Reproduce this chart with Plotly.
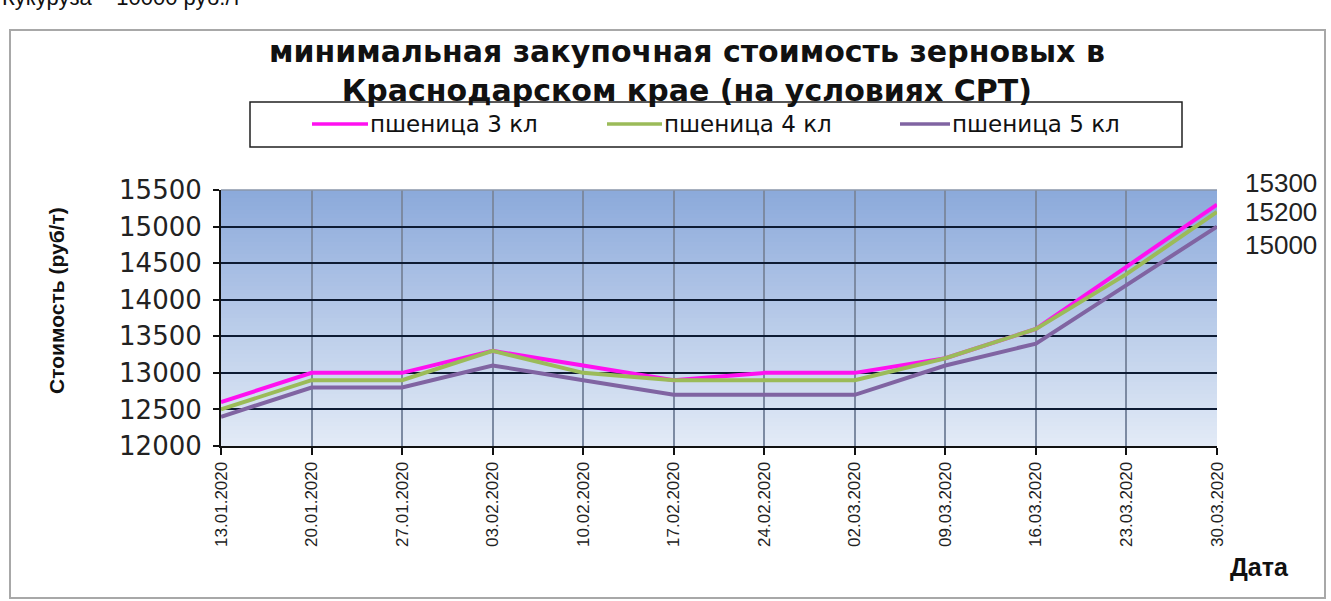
import plotly.graph_objects as go

dates = ["13.01.2020", "20.01.2020", "27.01.2020", "03.02.2020", "10.02.2020", "17.02.2020",
         "24.02.2020", "02.03.2020", "09.03.2020", "16.03.2020", "23.03.2020", "30.03.2020"]
wheat3 = [12600, 13000, 13000, 13300, 13100, 12900, 13000, 13000, 13200, 13600, 14450, 15300]
wheat4 = [12500, 12900, 12900, 13300, 13000, 12900, 12900, 12900, 13200, 13600, 14350, 15200]
wheat5 = [12400, 12800, 12800, 13100, 12900, 12700, 12700, 12700, 13100, 13400, 14200, 15000]
series_names = ["пшеница 3 кл", "пшеница 4 кл", "пшеница 5 кл"]
series_colors = ["#ff10f0", "#9bbb59", "#8064a2"]
yticks = [12000, 12500, 13000, 13500, 14000, 14500, 15000, 15500]
title_lines = ["минимальная закупочная стоимость зерновых в", "Краснодарском крае (на условиях СРТ)"]

W, H = 1331, 601
L, R, T, B = 221, 1217, 190, 446
pw, ph = R - L, B - T

def px(x):
    return (x - L) / pw

def py(y):
    return (B - y) / ph

fig = go.Figure()
for name, vals, col in zip(series_names, [wheat3, wheat4, wheat5], series_colors):
    fig.add_trace(go.Scatter(x=dates, y=vals, name=name, mode="lines",
                             line=dict(color=col, width=4), showlegend=False))

shapes = []
# gradient background
n = 64
top = (140, 170, 219)
bot = (226, 234, 246)
for i in range(n):
    t = i / (n - 1)
    c = tuple(round(top[k] + (bot[k] - top[k]) * t) for k in range(3))
    y1 = 1 - i / n
    y0 = 1 - (i + 1) / n - 0.003
    shapes.append(dict(type="rect", xref="x domain", yref="y domain", x0=0, x1=1,
                       y0=max(y0, 0), y1=y1, fillcolor="rgb(%d,%d,%d)" % c,
                       line=dict(width=0), layer="below"))
# outer frame
shapes.append(dict(type="rect", xref="paper", yref="paper", x0=px(10), x1=px(1325),
                   y0=py(598), y1=py(30), line=dict(color="#a8a8a8", width=2)))
# legend frame
shapes.append(dict(type="rect", xref="paper", yref="paper", x0=px(250), x1=px(1182),
                   y0=py(147), y1=py(102), line=dict(color="#202020", width=1.5)))
# top border of plot area
shapes.append(dict(type="line", xref="paper", yref="paper", x0=0, x1=1, y0=1, y1=1,
                   line=dict(color="#8a96aa", width=1.5)))

annotations = [
    dict(text="<br>".join("<b>%s</b>" % s for s in title_lines),
         xref="paper", yref="paper", x=px(687), y=py(71), xanchor="center", yanchor="middle",
         showarrow=False, font=dict(family="DejaVu Sans", size=30, color="#111111")),
    dict(text="<b>Стоимость (руб/т)</b>", xref="paper", yref="paper", x=px(56), y=py(301),
         textangle=-90, showarrow=False, xanchor="center", yanchor="middle",
         font=dict(family="Liberation Sans", size=21, color="#111111")),
    dict(text="<b>Дата</b>", xref="paper", yref="paper", x=px(1259), y=py(567),
         showarrow=False, xanchor="center", yanchor="middle",
         font=dict(family="Liberation Sans", size=25, color="#111111")),
    dict(text="Кукуруза – 10000 руб./т", xref="paper", yref="paper", x=px(0), y=py(12),
         showarrow=False, xanchor="left", yanchor="bottom",
         font=dict(family="Liberation Sans", size=22, color="#111111")),
]

# manual legend: line sample + label
leg_line_x = [(312, 368), (607, 662), (900, 950)]
for (x0, x1), name, col in zip(leg_line_x, series_names, series_colors):
    shapes.append(dict(type="line", xref="paper", yref="paper", x0=px(x0), x1=px(x1),
                       y0=py(124), y1=py(124), line=dict(color=col, width=3.5)))
    annotations.append(dict(text=name, xref="paper", yref="paper", x=px(x1), y=py(124),
                            xanchor="left", yanchor="middle", showarrow=False,
                            font=dict(family="DejaVu Sans", size=23, color="#111111")))

for vals, ys in zip([wheat3, wheat4, wheat5], [22, 0, -18]):
    annotations.append(dict(text=str(vals[-1]), x=dates[-1], y=vals[-1], xref="x", yref="y",
                            xanchor="left", yanchor="middle", xshift=26, yshift=ys,
                            showarrow=False,
                            font=dict(family="Liberation Sans", size=26, color="#222222")))

fig.update_layout(
    width=W, height=H,
    margin=dict(l=L, r=W - R, t=T, b=H - B, autoexpand=False),
    paper_bgcolor="white", plot_bgcolor="rgb(190,206,232)",
    showlegend=False,
    shapes=shapes,
    annotations=annotations,
    xaxis=dict(type="category", range=[0, 11], showgrid=True, gridcolor="#7c8aa2", gridwidth=1.5,
               showline=True, linecolor="#111111", linewidth=2,
               ticks="outside", ticklen=7, tickcolor="#111111", tickwidth=1.5,
               tickangle=-90, tickfont=dict(family="Liberation Sans", size=17, color="#222222"),
               zeroline=False),
    yaxis=dict(range=[12000, 15500], tickvals=yticks, ticktext=[str(v) for v in yticks],
               showgrid=True, gridcolor="#0d1b33",
               gridwidth=1.5, showline=True, linecolor="#111111", linewidth=2,
               ticks="outside", ticklen=6, tickcolor="#111111", tickwidth=1.5,
               ticklabelstandoff=6,
               tickfont=dict(family="DejaVu Sans", size=26, color="#222222"),
               zeroline=False),
)

fig.write_html("out.html", config={"displayModeBar": False},
               post_script="document.body.style.margin='0px';")
